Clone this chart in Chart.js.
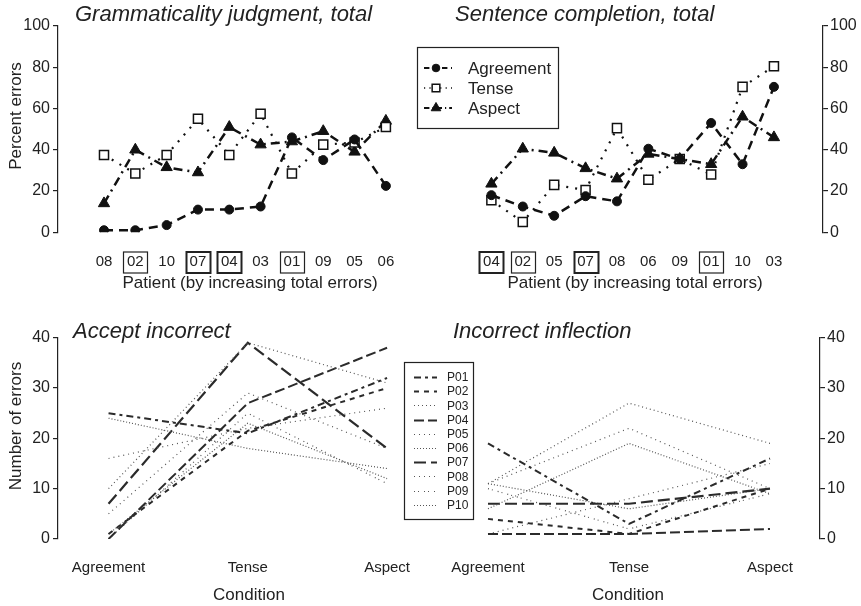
<!DOCTYPE html>
<html><head><meta charset="utf-8">
<script src="https://cdn.jsdelivr.net/npm/chart.js@4.4.1/dist/chart.umd.min.js"></script>
<style>
body{margin:0;background:#fff;width:861px;height:606px;overflow:hidden;position:relative;font-family:"Liberation Sans",Arial,Helvetica,sans-serif;color:#222}
canvas{position:absolute}
.t{position:absolute;white-space:nowrap;line-height:1}
.title{font-size:22px;font-style:italic}
.ax{font-size:17px}
.rot{transform:translate(-50%,-50%) rotate(-90deg)}
.cx{transform:translateX(-50%)}
.lg{font-size:17px}
.lg2{font-size:12px}
</style></head><body>
<canvas id="c1" width="430" height="300" style="left:0;top:0"></canvas>
<canvas id="c2" width="456" height="300" style="left:405px;top:0"></canvas>
<canvas id="c3" width="430" height="306" style="left:0;top:300px"></canvas>
<canvas id="c4" width="466" height="306" style="left:395px;top:300px"></canvas>

<div class="t title" style="left:75px;top:3px">Grammaticality judgment, total</div>
<div class="t title" style="left:455px;top:3px">Sentence completion, total</div>
<div class="t title" style="left:73px;top:320px">Accept incorrect</div>
<div class="t title" style="left:453px;top:320px">Incorrect inflection</div>
<div class="t ax rot" style="left:15px;top:116px">Percent errors</div>
<div class="t ax rot" style="left:15px;top:426px">Number of errors</div>
<div class="t ax cx" style="left:250px;top:274px">Patient (by increasing total errors)</div>
<div class="t ax cx" style="left:635px;top:274px">Patient (by increasing total errors)</div>
<div class="t ax cx" style="left:249px;top:586px">Condition</div>
<div class="t ax cx" style="left:628px;top:586px">Condition</div>
<div id="lgTop"></div>
<div id="lgBot"></div>

<script>
// ---- data ----
const seriesNames = ['Agreement', 'Tense', 'Aspect'];
const gjPatients = ['08','02','10','07','04','03','01','09','05','06'];
const gjAgreement = [1, 1, 3.5, 11, 11, 12.5, 46, 35, 45, 22.5];
const gjTense     = [37.5, 28.5, 37.5, 55, 37.5, 57.5, 28.5, 42.5, 43.5, 51];
const gjAspect    = [14, 40, 31.5, 29, 51, 42.5, 44, 49, 39, 54];

const scPatients = ['04','02','05','07','08','06','09','01','10','03'];
const scAgreement = [18, 12.5, 8, 17.5, 15, 40.5, 35.5, 53, 33, 70.5];
const scTense     = [15.5, 5, 23, 20.5, 50.5, 25.5, 35.5, 28, 70.5, 80.5];
const scAspect    = [23.5, 40.5, 38.5, 31, 26, 38, 35.5, 33, 56, 46];

const yTicksTop = [0, 20, 40, 60, 80, 100];
const boxedPatients = ['01','02','04','07'];
const boxedThick = ['04','07'];

const conditions = ['Agreement', 'Tense', 'Aspect'];
const patientIds = ['P01','P02','P03','P04','P05','P06','P07','P08','P09','P10'];
const acceptAgreement = [25, 1, 10, 0, 16, 24, 7, 5, 0, 1];
const acceptTense     = [21, 21.5, 39, 27, 22, 18, 39, 29, 25, 23];
const acceptAspect    = [32, 30, 31, 38, 26, 14, 18, 18, 11, 12];
const inflAgreement = [19, 4, 11, 1, 11, 6, 7, 1, 10, 11];
const inflTense     = [3, 1, 27, 1, 22, 19, 7, 8, 2, 6];
const inflAspect    = [16, 10, 19, 2, 10, 9, 10, 15, 9, 10];
const yTicksBottom = [0, 10, 20, 30, 40];

// ---- styles ----
const FONT = '"Liberation Sans", Arial, Helvetica, sans-serif';
const INK = '#222';
const topStyles = [
  {borderColor:'#111', borderWidth:2.5, borderDash:[9,6], pointStyle:'circle', pointRadius:4.5, pointBackgroundColor:'#111', pointBorderColor:'#111', pointBorderWidth:1},
  {borderColor:'#111', borderWidth:2.2, borderDash:[2,7], pointStyle:'rect', pointRadius:6.4, pointBackgroundColor:'#fff', pointBorderColor:'#111', pointBorderWidth:1.5},
  {borderColor:'#111', borderWidth:2.5, borderDash:[9,5,2,5], pointStyle:'triangle', pointRadius:6.5, pointBackgroundColor:'#111', pointBorderColor:'#111', pointBorderWidth:1}
];
const patStyles = [
  {c:'#2b2b2b', w:2,   d:[7,4,3,4]},
  {c:'#2b2b2b', w:2,   d:[5,5]},
  {c:'#555',    w:1.2, d:[1,3]},
  {c:'#2b2b2b', w:2,   d:[10,4]},
  {c:'#555',    w:1.2, d:[1,4]},
  {c:'#555',    w:1.2, d:[1,2]},
  {c:'#2b2b2b', w:2.2, d:[12,5]},
  {c:'#555',    w:1.2, d:[1,4]},
  {c:'#555',    w:1.2, d:[1,3,1,5]},
  {c:'#555',    w:1.2, d:[1,2]}
];

function drawMarker(ctx, st, x, y) {
  ctx.save();
  ctx.setLineDash([]);
  ctx.fillStyle = st.pointBackgroundColor; ctx.strokeStyle = st.pointBorderColor; ctx.lineWidth = st.pointBorderWidth;
  ctx.beginPath();
  const r = st.pointRadius;
  if (st.pointStyle === 'circle') { ctx.arc(x, y, r, 0, Math.PI*2); }
  else if (st.pointStyle === 'rect') { const s = r*Math.SQRT1_2; ctx.rect(x-s, y-s, 2*s, 2*s); }
  else { ctx.moveTo(x, y-r); ctx.lineTo(x+0.866*r, y+0.5*r); ctx.lineTo(x-0.866*r, y+0.5*r); ctx.closePath(); }
  ctx.fill(); ctx.stroke();
  ctx.restore();
}

const boxPlugin = {
  id: 'boxes',
  afterDraw(chart, args, opts) {
    if (!opts || !opts.labels) return;
    const ctx = chart.ctx, xs = chart.scales.x;
    ctx.save();
    ctx.strokeStyle = INK;
    boxedPatients.forEach(p => {
      const i = opts.labels.indexOf(p);
      if (i < 0) return;
      const px = Math.round(xs.getPixelForValue(i)) + 0.5;
      ctx.lineWidth = boxedThick.includes(p) ? 2 : 1.2;
      ctx.strokeRect(px - 12, opts.cy - 10.5, 24, 21);
    });
    ctx.restore();
  }
};

const topLegendPlugin = {
  id: 'topLegend',
  afterDraw(chart, args, opts) {
    if (!opts || !opts.on) return;
    const ctx = chart.ctx, ox = 405, oy = 0;
    ctx.save();
    ctx.strokeStyle = INK; ctx.lineWidth = 1.2;
    ctx.strokeRect(417.5 - ox, 47.5 - oy, 141, 81);
    topStyles.forEach((st, k) => {
      const y = 68 + 20*k - oy;
      ctx.save();
      ctx.strokeStyle = st.borderColor; ctx.lineWidth = st.borderWidth - 0.5; ctx.setLineDash(st.borderDash.map(v=>v*0.6));
      ctx.beginPath(); ctx.moveTo(424 - ox, y); ctx.lineTo(452 - ox, y); ctx.stroke();
      ctx.restore();
      drawMarker(ctx, Object.assign({}, st, {pointRadius: st.pointRadius*0.85}), 436 - ox, y);
    });
    ctx.restore();
  }
};

const botLegendPlugin = {
  id: 'botLegend',
  afterDraw(chart, args, opts) {
    if (!opts || !opts.on) return;
    const ctx = chart.ctx, ox = 395, oy = 300;
    ctx.save();
    ctx.strokeStyle = INK; ctx.lineWidth = 1.2;
    ctx.strokeRect(404.5 - ox, 362.5 - oy, 69, 157);
    patStyles.forEach((st, k) => {
      const y = Math.round(377 + 14.2*k - oy) + 0.5;
      ctx.strokeStyle = st.c; ctx.lineWidth = st.w; ctx.setLineDash(st.d);
      ctx.beginPath(); ctx.moveTo(414 - ox, y); ctx.lineTo(437 - ox, y); ctx.stroke();
    });
    ctx.restore();
  }
};

function yScale(opts) {
  return {
    position: opts.pos, min: opts.min, max: opts.max,
    afterBuildTicks: s => { s.ticks = opts.ticks.map(v => ({value: v})); },
    ticks: {font: {size: 16, family: FONT}, color: INK, padding: opts.pad},
    grid: {display: true, drawOnChartArea: false, drawTicks: true, tickLength: 5, color: INK, lineWidth: 1.2},
    border: {display: true, color: INK, width: 1.2},
    afterFit: s => { s.width = opts.width; }
  };
}
function xScale(opts) {
  return {
    type: 'linear', position: 'bottom', min: opts.min, max: opts.max,
    afterBuildTicks: s => { s.ticks = opts.labels.map((_, i) => ({value: i})); },
    ticks: {callback: v => opts.labels[v], font: {size: opts.size, family: FONT}, color: INK, padding: opts.pad, maxRotation: 0, autoSkip: false},
    grid: {display: false, drawTicks: false},
    border: {display: false},
    afterFit: s => { s.height = opts.height; }
  };
}

function topChart(id, labels, series, xo, yo, pad, legendOn) {
  const datasets = series.map((vals, k) => Object.assign({
    label: seriesNames[k],
    data: vals.map((v, i) => ({x: i, y: v})),
    fill: false, tension: 0
  }, topStyles[k]));
  new Chart(document.getElementById(id), {
    type: 'line',
    data: {datasets},
    options: {
      responsive: false, animation: false, events: [],
      layout: {padding: pad},
      scales: {x: xScale(xo), y: yScale(yo)},
      plugins: {legend: {display: false}, tooltip: {enabled: false},
        boxes: {labels, cy: 262.5}, topLegend: {on: legendOn}}
    },
    plugins: [boxPlugin, topLegendPlugin]
  });
}

function botChart(id, a, t, s, xo, yo, pad, legendOn) {
  const datasets = patientIds.map((p, k) => ({
    label: p,
    data: [a[k], t[k], s[k]].map((v, i) => ({x: i, y: v})),
    borderColor: patStyles[k].c, borderWidth: patStyles[k].w, borderDash: patStyles[k].d,
    pointRadius: 0, fill: false, tension: 0
  }));
  new Chart(document.getElementById(id), {
    type: 'line',
    data: {datasets},
    options: {
      responsive: false, animation: false, events: [],
      layout: {padding: pad},
      scales: {x: xScale(xo), y: yScale(yo)},
      plugins: {legend: {display: false}, tooltip: {enabled: false}, botLegend: {on: legendOn}}
    },
    plugins: [botLegendPlugin]
  });
}

topChart('c1', gjPatients, [gjAgreement, gjTense, gjAspect],
  {min: -47/32, max: -47/32 + 372/32, labels: gjPatients, size: 15, pad: 21, height: 67.7},
  {pos: 'left', min: 0, max: 100, ticks: yTicksTop, pad: 3, width: 58},
  {top: 26, left: 0, right: 0, bottom: 0}, false);

topChart('c2', scPatients, [scAgreement, scTense, scAspect],
  {min: -80/32, max: -80/32 + 418/32, labels: scPatients, size: 15, pad: 21, height: 67.7},
  {pos: 'right', min: 0, max: 100, ticks: yTicksTop, pad: 2, width: 38},
  {top: 26, left: 0, right: 0, bottom: 0}, true);

botChart('c3', acceptAgreement, acceptTense, acceptAspect,
  {min: -51/140.5, max: -51/140.5 + 372/140.5, labels: conditions, size: 15, pad: 20, height: 67},
  {pos: 'left', min: 0, max: 40, ticks: yTicksBottom, pad: 3, width: 58},
  {top: 37.7, left: 0, right: 0, bottom: 0}, false);

botChart('c4', inflAgreement, inflTense, inflAspect,
  {min: -93/141, max: -93/141 + 425/141, labels: conditions, size: 15, pad: 20, height: 67},
  {pos: 'right', min: 0, max: 40, ticks: yTicksBottom, pad: 2, width: 41},
  {top: 37.7, left: 0, right: 0, bottom: 0}, true);

// legend texts (HTML)
const lgTop = document.getElementById('lgTop');
seriesNames.forEach((n, k) => {
  const d = document.createElement('div');
  d.className = 't lg'; d.style.left = '468px'; d.style.top = (59.7 + 20*k) + 'px'; d.textContent = n;
  lgTop.appendChild(d);
});
const lgBot = document.getElementById('lgBot');
patientIds.forEach((n, k) => {
  const d = document.createElement('div');
  d.className = 't lg2'; d.style.left = '447px'; d.style.top = (377 + 14.2*k - 5.9) + 'px'; d.textContent = n;
  lgBot.appendChild(d);
});
</script>
</body></html>
